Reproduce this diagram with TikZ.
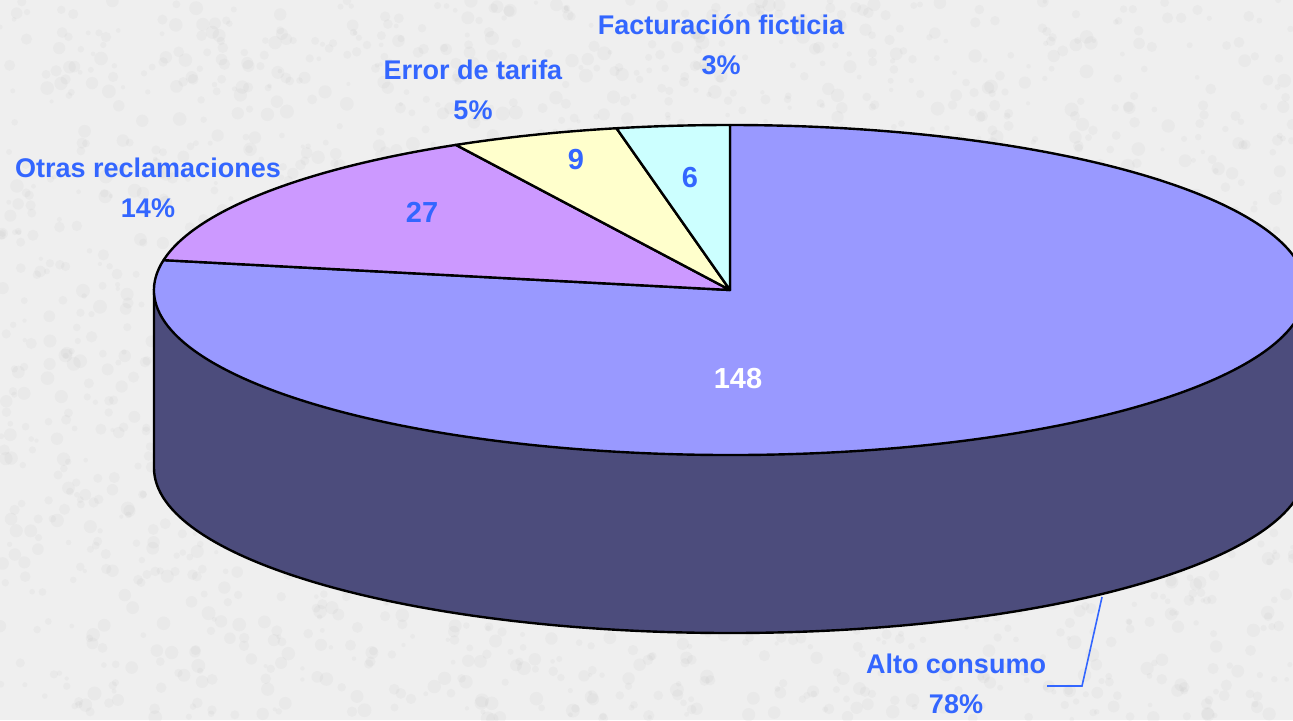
\documentclass[tikz,border=0pt]{standalone}
\usepackage{fontspec}
\setmainfont{Liberation Sans}
\definecolor{bgc}{HTML}{EFEFEF}
\definecolor{altotop}{HTML}{9999FF}
\definecolor{altoside}{RGB}{76,76,124}
\definecolor{otrasc}{HTML}{CC99FF}
\definecolor{errorc}{HTML}{FFFFCC}
\definecolor{factc}{HTML}{CCFFFF}
\definecolor{lblblue}{HTML}{3366FF}
\tikzset{
  edge/.style={draw=black, line width=1.2pt, line join=round},
  catlbl/.style={text=lblblue, font=\fontsize{13.5}{20}\selectfont\bfseries, align=center, inner sep=0pt},
  numlbl/.style={text=lblblue, font=\fontsize{14.5}{17}\selectfont\bfseries, inner sep=0pt},
  leader/.style={draw=lblblue, line width=0.8pt}
}
\begin{document}
\begin{tikzpicture}[x=0.5pt,y=0.5pt]
\useasboundingbox (0,0) rectangle (1293,720);
\clip (0,0) rectangle (1293,720);
% background
\fill[bgc] (0,0) rectangle (1293,720);
\pgfmathsetseed{7}
\foreach \i in {1,...,2600}{
  \pgfmathsetmacro\xx{rnd*1293}
  \pgfmathsetmacro\yy{rnd*720}
  \pgfmathsetmacro\rr{2+rnd*5}
  \fill[black!25, opacity=0.12] (\xx,\yy) circle[radius=\rr];
}
% pie geometry: centre (730,430) in y-up px, rx 576, ry 165, depth 178
\coordinate (C) at (730,430);
% side (front)
\fill[altoside] (C) ++(180:576 and 165) arc[start angle=180, end angle=360, x radius=576, y radius=165]
  -- ++(0,-178) arc[start angle=360, end angle=180, x radius=576, y radius=165] -- cycle;
\draw[edge] (C) ++(180:576 and 165) -- ++(0,-178) arc[start angle=180, end angle=360, x radius=576, y radius=165] -- ++(0,178);
% top sectors
\filldraw[edge, fill=altotop] (C) -- ++(169.579:576 and 165) arc[start angle=169.579, end angle=450, x radius=576, y radius=165] -- cycle;
\filldraw[edge, fill=otrasc] (C) -- ++(118.421:576 and 165) arc[start angle=118.421, end angle=169.579, x radius=576, y radius=165] -- cycle;
\filldraw[edge, fill=errorc] (C) -- ++(101.368:576 and 165) arc[start angle=101.368, end angle=118.421, x radius=576, y radius=165] -- cycle;
\filldraw[edge, fill=factc] (C) -- ++(90:576 and 165) arc[start angle=90, end angle=101.368, x radius=576, y radius=165] -- cycle;
% value labels
\node[numlbl, text=white] (v148) at (738,341) {148};
\node[numlbl] (v27) at (422,508) {27};
\node[numlbl] (v9) at (576,560) {9};
\node[numlbl] (v6) at (690,542) {6};
% category labels
\node[catlbl] (lfact) at (721,675) {Facturación ficticia\\3\%};
\node[catlbl] (lerr) at (473,630) {Error de tarifa\\5\%};
\node[catlbl] (lotr) at (148,532) {Otras reclamaciones\\14\%};
\node[catlbl] (lalto) at (956,36) {Alto consumo\\78\%};
% leader line
\coordinate (p1) at (1102,123);
\coordinate (p2) at (1082,34);
\coordinate (p3) at (1047,34);
\draw[leader] (p1) -- (p2) -- (p3);
\end{tikzpicture}
\end{document}
